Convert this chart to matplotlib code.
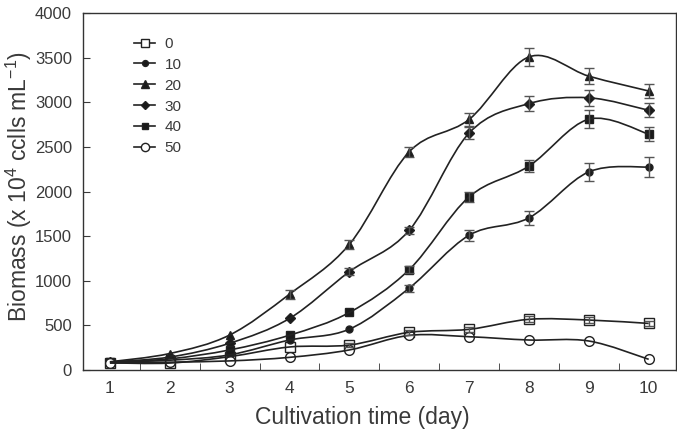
import numpy as np
import matplotlib.pyplot as plt
from matplotlib.path import Path
from matplotlib.patches import PathPatch
from matplotlib.lines import Line2D

plt.rcParams['font.family'] = ['Liberation Sans', 'DejaVu Sans']
plt.rcParams['mathtext.default'] = 'regular'

days = [1, 2, 3, 4, 5, 6, 7, 8, 9, 10]
labels = ['0', '10', '20', '30', '40', '50']

s0 = [80, 78, 150, 258, 280, 422, 456, 568, 560, 522]
s10 = [88, 110, 170, 336, 458, 918, 1510, 1705, 2220, 2275]
s20 = [92, 185, 392, 850, 1408, 2445, 2808, 3508, 3292, 3126]
s30 = [90, 145, 300, 578, 1102, 1566, 2655, 2985, 3050, 2910]
s40 = [88, 125, 225, 390, 645, 1125, 1940, 2285, 2810, 2644]
s50 = [78, 88, 102, 142, 225, 388, 373, 336, 325, 120]

e0 = [0, 0, 0, 0, 20, 25, 30, 35, 35, 30]
e10 = [0, 0, 0, 0, 0, 40, 60, 80, 100, 110]
e20 = [0, 0, 0, 50, 50, 55, 70, 100, 90, 80]
e30 = [0, 0, 0, 0, 40, 40, 70, 80, 90, 80]
e40 = [0, 0, 0, 0, 0, 40, 60, 70, 100, 80]
e50 = [0, 0, 0, 0, 0, 0, 0, 0, 0, 0]

series = [s0, s10, s20, s30, s40, s50]
errors = [e0, e10, e20, e30, e40, e50]
markers = ['s', 'o', '^', 'D', 's', 'o']
fills = ['white', '#1a1a1a', '#1a1a1a', '#1a1a1a', '#1a1a1a', 'white']
sizes = [7, 5, 6, 5, 5.5, 7]

fig = plt.figure(figsize=(6.77, 4.30), dpi=100)
ax = fig.add_axes([0.1226, 0.1395, 0.8754, 0.8303])


def smooth_path(x, y):
    pts = np.column_stack([x, y]).astype(float)
    ext = np.vstack([pts[0], pts, pts[-1]])
    verts = [pts[0]]
    codes = [Path.MOVETO]
    for i in range(len(pts) - 1):
        p0, p1, p2, p3 = ext[i], ext[i + 1], ext[i + 2], ext[i + 3]
        c1 = p1 + (p2 - p0) / 6.0
        c2 = p2 - (p3 - p1) / 6.0
        verts += [c1, c2, p2]
        codes += [Path.CURVE4] * 3
    return Path(verts, codes)


lc = '#222222'
for s, e, m, fc, ms in zip(series, errors, markers, fills, sizes):
    ax.plot(days, s, linestyle='none', marker=m, markersize=ms,
            markerfacecolor=fc, markeredgecolor=lc, markeredgewidth=1.0,
            zorder=2)
    ax.add_patch(PathPatch(smooth_path(days, s), fill=False, edgecolor=lc,
                           linewidth=1.2, transform=ax.transData, zorder=3))
    err = np.array(e, dtype=float)
    ax.errorbar(days, s, yerr=np.where(err > 0, err, np.nan), fmt='none',
                ecolor='#555555', elinewidth=1.0, capsize=3.5, capthick=1.0,
                zorder=4)

ax.set_xlim(0.55, 10.45)
ax.set_ylim(0, 4000)
ax.set_xticks(days)
ax.set_xticks(np.arange(1.5, 10, 1.0), minor=True)
ax.tick_params(axis='x', which='major', length=0, pad=8, labelsize=12.5,
               colors='#3a3a3a')
ax.tick_params(axis='x', which='minor', direction='in', length=5,
               color='#333333')
ax.set_yticks(np.arange(0, 4001, 500))
ax.tick_params(axis='y', direction='in', length=5, pad=8, labelsize=12,
               colors='#3a3a3a')
for sp in ax.spines.values():
    sp.set_color('#333333')
    sp.set_linewidth(1.0)

ax.set_xlabel('Cultivation time (day)', fontsize=16.5, color='#3a3a3a',
              va='baseline')
ax.xaxis.set_label_coords(0.472, -0.152)
ax.set_ylabel('Biomass (x 10$^{4}$ cclls mL$^{-1}$)', fontsize=16.5,
              color='#3a3a3a')
ax.yaxis.set_label_coords(-0.083, 0.514)

handles = [Line2D([], [], color=lc, linewidth=1.2, marker=m,
                  markersize=ms * 0.85, markerfacecolor=fc,
                  markeredgecolor=lc)
           for m, fc, ms in zip(markers, fills, sizes)]
ax.legend(handles, labels, loc='upper left', bbox_to_anchor=(0.068, 0.963),
          frameon=False, fontsize=11, handlelength=1.4, handletextpad=0.6,
          labelspacing=0.45, borderpad=0.2, labelcolor='#3a3a3a')

fig.savefig('out.png', dpi=100)
